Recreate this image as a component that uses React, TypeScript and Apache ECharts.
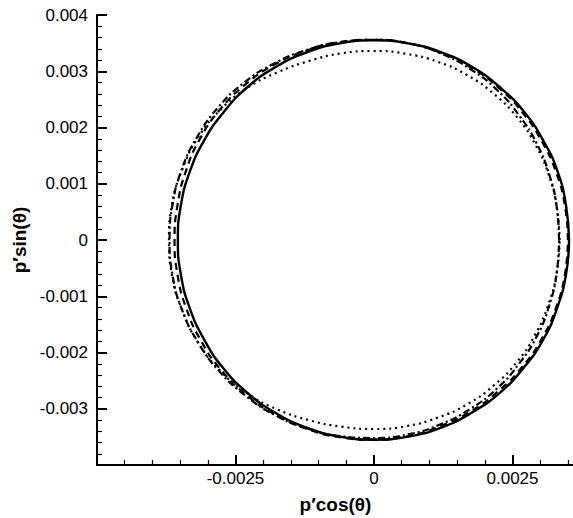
import React, { useEffect, useRef } from "react";
import * as echarts from "echarts";

// polar angle (degrees) of the sampled points
const thetaDeg = [0, 10, 20, 30, 40, 50, 60, 70, 80, 90, 100, 110, 120, 130, 140, 150, 160, 170, 180, 190, 200, 210, 220, 230, 240, 250, 260, 270, 280, 290, 300, 310, 320, 330, 340, 350];

// p' amplitude for each curve
const solidP = [0.00352, 0.00352, 0.00353, 0.00353, 0.00354, 0.00354, 0.00355, 0.00355, 0.00355, 0.00355, 0.00355, 0.00355, 0.00355, 0.00355, 0.00354, 0.00354, 0.00354, 0.00354, 0.00354, 0.00354, 0.00354, 0.00354, 0.00355, 0.00355, 0.00355, 0.00355, 0.00355, 0.00355, 0.00355, 0.00355, 0.00354, 0.00354, 0.00353, 0.00353, 0.00352, 0.00352];
const dashedP = [0.0035, 0.0035, 0.0035, 0.0035, 0.00351, 0.00352, 0.00353, 0.00354, 0.00355, 0.00356, 0.00357, 0.00358, 0.0036, 0.00361, 0.00362, 0.00362, 0.00361, 0.0036, 0.0036, 0.0036, 0.0036, 0.0036, 0.0036, 0.00359, 0.00358, 0.00357, 0.00356, 0.00355, 0.00354, 0.00352, 0.00351, 0.0035, 0.0035, 0.0035, 0.0035, 0.0035];
const dashDotP = [0.00334, 0.00335, 0.00337, 0.0034, 0.00343, 0.00347, 0.0035, 0.00353, 0.00355, 0.00356, 0.00357, 0.00359, 0.00362, 0.00365, 0.00367, 0.00368, 0.00369, 0.00369, 0.00369, 0.00369, 0.00368, 0.00366, 0.00364, 0.00361, 0.00359, 0.00356, 0.00354, 0.00352, 0.00351, 0.00349, 0.00347, 0.00345, 0.00342, 0.0034, 0.00337, 0.00335];
const dottedP = [0.00335, 0.00335, 0.00336, 0.00337, 0.00338, 0.00338, 0.00338, 0.00337, 0.00336, 0.00336, 0.00337, 0.00339, 0.00345, 0.00354, 0.00361, 0.00366, 0.00368, 0.0037, 0.0037, 0.0037, 0.00368, 0.00366, 0.00362, 0.00356, 0.00348, 0.00341, 0.00337, 0.00336, 0.00336, 0.00336, 0.00337, 0.00337, 0.00337, 0.00336, 0.00335, 0.00335];

const xLabels = ["-0.0025", "0", "0.0025"];
const yLabels = ["0.004", "0.003", "0.002", "0.001", "0", "-0.001", "-0.002", "-0.003"];

const toXY = (p: number[]) => {
  const pts = thetaDeg.map((t, i) => {
    const a = (t * Math.PI) / 180;
    return [p[i] * Math.cos(a), p[i] * Math.sin(a)];
  });
  pts.push(pts[0]);
  return pts;
};

const FONT = "'Liberation Sans', Arial, Helvetica, sans-serif";

const fmt = (v: number, allowed: string[]) => {
  const s = Math.abs(v) < 1e-12 ? "0" : String(+v.toPrecision(6));
  return allowed.includes(s) ? s : "";
};

export default function App() {
  const ref = useRef<HTMLDivElement>(null);
  useEffect(() => {
    if (!ref.current) return;
    const chart = echarts.init(ref.current, null, { renderer: "svg" });
    const axisCommon = {
      type: "value" as const,
      splitLine: { show: false },
      axisLine: { onZero: false, lineStyle: { color: "#000", width: 2 } },
      axisTick: { inside: true, length: 10, lineStyle: { color: "#000", width: 2 } },
      minorTick: { show: true, splitNumber: 5, length: 5, lineStyle: { color: "#000", width: 1.2 } },
      nameLocation: "middle" as const,
      nameTextStyle: { color: "#000", fontFamily: FONT, fontSize: 19, fontWeight: "bold" as const },
    };
    const line = (name: string, p: number[], type: any, width: number) => ({
      name,
      type: "line",
      data: toXY(p),
      smooth: 0.5,
      showSymbol: false,
      symbol: "none",
      lineStyle: { color: "#000", width, type },
      silent: true,
    });
    chart.setOption({
      animation: false,
      backgroundColor: "#fff",
      grid: { left: 97, top: 15, width: 554, height: 450, containLabel: false, outerBoundsMode: "none" },
      xAxis: {
        ...axisCommon,
        min: -0.005,
        max: 0.005,
        interval: 0.0025,
        name: "p′cos(θ)",
        nameGap: 30,
        nameTextStyle: { ...axisCommon.nameTextStyle, padding: [0, 77, 0, 0] },
        axisLabel: {
          color: "#000",
          fontFamily: FONT,
          fontSize: 17,
          margin: 5,
          formatter: (v: number) => fmt(v, xLabels),
        },
      },
      yAxis: {
        ...axisCommon,
        min: -0.004,
        max: 0.004,
        interval: 0.001,
        name: "p′sin(θ)",
        nameGap: 68,
        axisLabel: {
          color: "#000",
          fontFamily: FONT,
          fontSize: 17,
          margin: 9,
          formatter: (v: number) => fmt(v, yLabels),
        },
      },
      series: [
        line("solid", solidP, "solid", 2.4),
        line("dashed", dashedP, [7, 5], 2.2),
        line("dashdot", dashDotP, [7, 3, 2, 3], 2.2),
        line("dotted", dottedP, [2, 4], 2.2),
      ],
    });
    return () => chart.dispose();
  }, []);
  return (
    <div
      ref={ref}
      style={{ position: "fixed", left: 0, top: 0, width: 573, height: 518, overflow: "hidden", background: "#fff" }}
    />
  );
}
